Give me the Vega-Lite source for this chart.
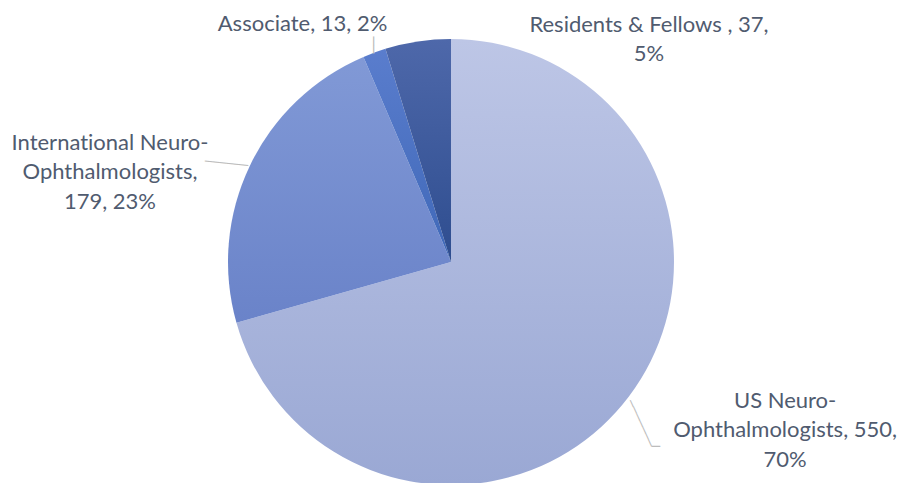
{
  "$schema": "https://vega.github.io/schema/vega-lite/v6.json",
  "width": 902,
  "height": 442,
  "autosize": {"type": "none"},
  "padding": {"left": 0, "top": 41, "right": 3, "bottom": 0},
  "background": "white",
  "view": {"stroke": null},
  "data": {
    "values": [
      {"cat": "US Neuro-Ophthalmologists", "value": 550, "label": "US Neuro-\nOphthalmologists, 550,\n70%"},
      {"cat": "International Neuro-Ophthalmologists", "value": 179, "label": "Internat\u200Cional Neuro-\nOphthalmologists,\n179, 23%"},
      {"cat": "Associate", "value": 13, "label": "Associate, 13, 2%"},
      {"cat": "Residents & Fellows", "value": 37, "label": "Residents & Fellows , 37,\n5%"}
    ]
  },
  "transform": [{"window": [{"op": "row_number", "as": "rn"}]}],
  "encoding": {
    "theta": {"field": "value", "type": "quantitative", "stack": true},
    "order": {"field": "rn", "type": "quantitative"}
  },
  "layer": [
    {
      "mark": {"type": "arc", "radius": 223, "stroke": null},
      "encoding": {
        "fill": {
          "condition": [
            {"test": "datum.cat === 'US Neuro-Ophthalmologists'", "value": {"gradient": "linear", "x1": 0, "y1": 0, "x2": 0, "y2": 1, "stops": [{"offset": 0, "color": "#bdc6e6"}, {"offset": 1, "color": "#9aa8d4"}]}},
            {"test": "datum.cat === 'International Neuro-Ophthalmologists'", "value": {"gradient": "linear", "x1": 0, "y1": 0, "x2": 0, "y2": 1, "stops": [{"offset": 0, "color": "#8199d6"}, {"offset": 1, "color": "#6a83c9"}]}},
            {"test": "datum.cat === 'Associate'", "value": {"gradient": "linear", "x1": 0, "y1": 0, "x2": 0, "y2": 1, "stops": [{"offset": 0, "color": "#5a7dcd"}, {"offset": 1, "color": "#3f68b8"}]}}
          ],
          "value": {"gradient": "linear", "x1": 0, "y1": 0, "x2": 0, "y2": 1, "stops": [{"offset": 0, "color": "#4e68aa"}, {"offset": 1, "color": "#2e4d8f"}]}
        }
      }
    },
    {
      "mark": {"type": "text", "radius": 224, "dx": 155.4, "dy": 3.6, "align": "center", "baseline": "middle", "font": "Lato", "fontSize": 22, "lineHeight": 29.7, "lineBreak": "\n", "fill": "#505b6f"},
      "encoding": {"text": {"condition": {"test": "datum.cat === 'US Neuro-Ophthalmologists'", "field": "label"}, "value": ""}}
    },
    {
      "mark": {"type": "text", "radius": 224, "dx": -138.9, "dy": -22.8, "align": "center", "baseline": "middle", "font": "Lato", "fontSize": 22, "lineHeight": 29.7, "lineBreak": "\n", "fill": "#505b6f"},
      "encoding": {"text": {"condition": {"test": "datum.cat === 'International Neuro-Ophthalmologists'", "field": "label"}, "value": ""}}
    },
    {
      "mark": {"type": "text", "radius": 224, "dx": -71.5, "dy": -27.7, "align": "center", "baseline": "middle", "font": "Lato", "fontSize": 22, "lineHeight": 29.7, "lineBreak": "\n", "fill": "#505b6f"},
      "encoding": {"text": {"condition": {"test": "datum.cat === 'Associate'", "field": "label"}, "value": ""}}
    },
    {
      "mark": {"type": "text", "radius": 224, "dx": 231.3, "dy": -15.8, "align": "center", "baseline": "middle", "font": "Lato", "fontSize": 22, "lineHeight": 29.7, "lineBreak": "\n", "fill": "#505b6f"},
      "encoding": {"text": {"condition": {"test": "datum.cat === 'Residents & Fellows'", "field": "label"}, "value": ""}}
    },
    {
      "mark": {"type": "text", "radius": 224, "angle": 6.2, "dx": -22.5, "dy": 0.3, "align": "center", "baseline": "middle", "font": "DejaVu Sans", "fontSize": 12, "fill": "#bcbcbc"},
      "encoding": {"text": {"condition": {"test": "datum.cat === 'International Neuro-Ophthalmologists'", "value": "──────"}, "value": ""}}
    },
    {
      "mark": {"type": "text", "radius": 224, "angle": 90, "dx": -6.6, "dy": 1.3, "align": "center", "baseline": "middle", "font": "DejaVu Sans", "fontSize": 14, "fill": "#bcbcbc"},
      "encoding": {"text": {"condition": {"test": "datum.cat === 'Associate'", "value": "──"}, "value": ""}}
    },
    {
      "mark": {"type": "text", "radius": 224, "angle": 65.1, "dx": 28.5, "dy": 0.9, "align": "center", "baseline": "middle", "font": "DejaVu Sans", "fontSize": 12, "fill": "#bcbcbc"},
      "encoding": {"text": {"condition": {"test": "datum.cat === 'US Neuro-Ophthalmologists'", "value": "───────"}, "value": ""}}
    },
    {
      "mark": {"type": "text", "radius": 224, "dx": 26.2, "dy": 49.6, "align": "center", "baseline": "middle", "font": "DejaVu Sans", "fontSize": 13.8, "fill": "#bcbcbc"},
      "encoding": {"text": {"condition": {"test": "datum.cat === 'US Neuro-Ophthalmologists'", "value": "─"}, "value": ""}}
    }
  ]
}
